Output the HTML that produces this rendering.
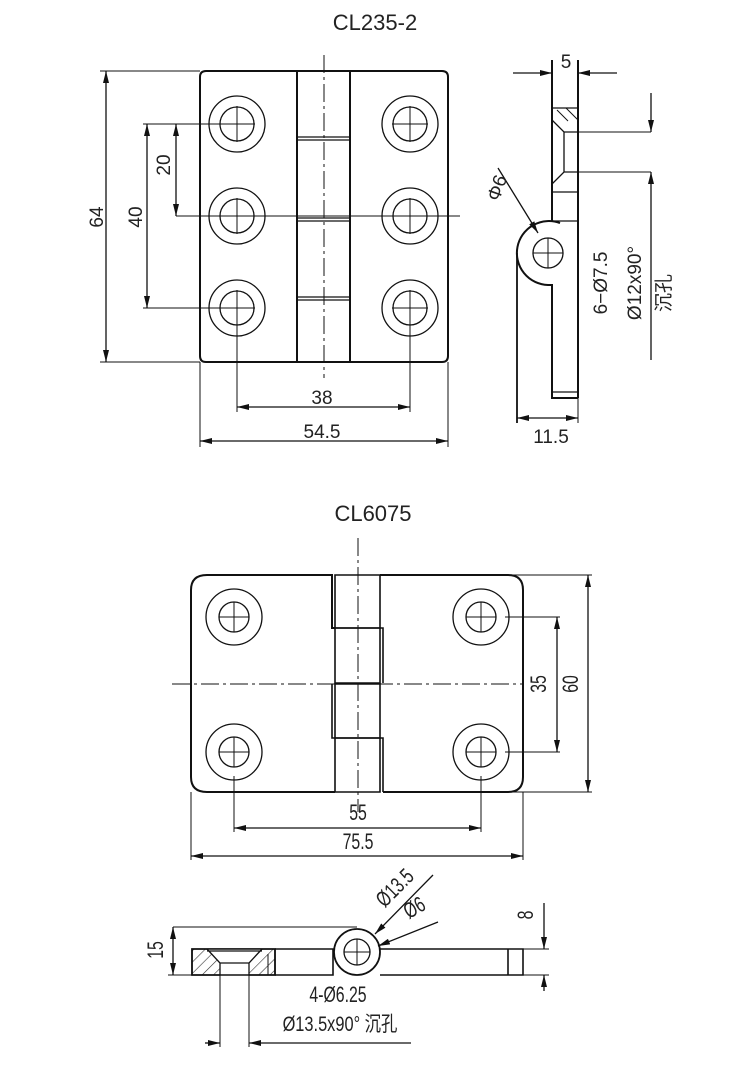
<!DOCTYPE html>
<html><head><meta charset="utf-8"><style>
html,body{margin:0;padding:0;background:#fff;}
svg{display:block;}
text{font-family:"Liberation Sans","Noto Sans CJK SC",sans-serif;fill:#222;}
.c{font-family:"Liberation Sans Narrow","Liberation Sans","Noto Sans CJK SC",sans-serif;}
</style></head><body>
<svg width="750" height="1074" viewBox="0 0 750 1074" xmlns="http://www.w3.org/2000/svg">
<defs>
<marker id="a" viewBox="0 0 12 6" refX="12" refY="3" markerWidth="12" markerHeight="6" markerUnits="userSpaceOnUse" orient="auto-start-reverse">
<path d="M0,0 L12,3 L0,6 z" fill="#111"/></marker>
<pattern id="h" width="8" height="8" patternUnits="userSpaceOnUse" patternTransform="rotate(45)">
<line x1="0" y1="0" x2="0" y2="8" stroke="#333" stroke-width="1.2"/></pattern>
</defs>

<text x="375" y="30" font-size="22" text-anchor="middle">CL235-2</text>
<text x="373" y="521" font-size="22" text-anchor="middle">CL6075</text>

<g fill="none" stroke="#111" stroke-width="1.3">
<path d="M206,71 H442 Q448,71 448,77 V356 Q448,362 442,362 H206 Q200,362 200,356 V77 Q200,71 206,71 Z" stroke-width="2"/>
<line x1="297" y1="71" x2="297" y2="362" stroke-width="2"/>
<line x1="350" y1="71" x2="350" y2="362" stroke-width="2"/>
<g stroke-width="1.2">
<line x1="297" y1="137" x2="350" y2="137"/><line x1="297" y1="140" x2="350" y2="140"/>
<line x1="297" y1="218" x2="350" y2="218"/><line x1="297" y1="221" x2="350" y2="221"/>
<line x1="297" y1="297" x2="350" y2="297"/><line x1="297" y1="300" x2="350" y2="300"/>
</g>
<line x1="324" y1="55" x2="324" y2="378" stroke-width="1" stroke-dasharray="18,4,3,4"/>
<line x1="200" y1="216" x2="460" y2="216" stroke-width="1"/>
<g>
<circle cx="237" cy="124" r="28"/><circle cx="237" cy="124" r="17"/>
<circle cx="237" cy="216" r="28"/><circle cx="237" cy="216" r="17"/>
<circle cx="237" cy="308" r="28"/><circle cx="237" cy="308" r="17"/>
<circle cx="410" cy="124" r="28"/><circle cx="410" cy="124" r="17"/>
<circle cx="410" cy="216" r="28"/><circle cx="410" cy="216" r="17"/>
<circle cx="410" cy="308" r="28"/><circle cx="410" cy="308" r="17"/>
</g>
<g stroke-width="1">
<path d="M219,124h36M237,106v36M219,216h36M237,198v36M219,308h36M237,290v36"/>
<path d="M392,124h36M410,106v36M392,216h36M410,198v36M392,308h36M410,290v36"/>
</g>
<line x1="100" y1="71" x2="200" y2="71" stroke-width="1"/>
<line x1="100" y1="362" x2="200" y2="362" stroke-width="1"/>
<line x1="106" y1="71" x2="106" y2="362" marker-start="url(#a)" marker-end="url(#a)"/>
<line x1="143" y1="124" x2="237" y2="124" stroke-width="1"/>
<line x1="143" y1="308" x2="237" y2="308" stroke-width="1"/>
<line x1="147" y1="124" x2="147" y2="308" marker-start="url(#a)" marker-end="url(#a)"/>
<line x1="176" y1="216" x2="237" y2="216" stroke-width="1"/>
<line x1="176" y1="124" x2="176" y2="216" marker-start="url(#a)" marker-end="url(#a)"/>
<line x1="237" y1="308" x2="237" y2="412" stroke-width="1"/>
<line x1="410" y1="308" x2="410" y2="412" stroke-width="1"/>
<line x1="237" y1="407" x2="410" y2="407" marker-start="url(#a)" marker-end="url(#a)"/>
<line x1="200" y1="362" x2="200" y2="447" stroke-width="1"/>
<line x1="448" y1="362" x2="448" y2="447" stroke-width="1"/>
<line x1="200" y1="441" x2="448" y2="441" marker-start="url(#a)" marker-end="url(#a)"/>

<line x1="552" y1="60" x2="552" y2="221" stroke-width="2"/>
<line x1="578" y1="60" x2="578" y2="398" stroke-width="2"/>
<line x1="513" y1="73" x2="552" y2="73" marker-end="url(#a)"/>
<line x1="617" y1="73" x2="578" y2="73" marker-end="url(#a)"/>
<line x1="552" y1="108" x2="578" y2="108"/>
<path d="M552,120 L564,132 H578 M552,184 L564,172 H578 M564,132 V172 M552,192 H578"/>
<line x1="557" y1="110" x2="568" y2="121" stroke-width="1"/>
<line x1="566" y1="108" x2="578" y2="120" stroke-width="1"/>
<line x1="578" y1="132" x2="651" y2="132" stroke-width="1"/>
<line x1="578" y1="172" x2="651" y2="172" stroke-width="1"/>
<line x1="651" y1="93" x2="651" y2="132" marker-end="url(#a)"/>
<line x1="651" y1="360" x2="651" y2="172" marker-end="url(#a)"/>
<line x1="552" y1="221" x2="578" y2="221"/>
<path d="M560,223 A32,32 0 1,0 548,285 H552 V398 H578" stroke-width="2"/>
<line x1="552" y1="392" x2="578" y2="392"/>
<line x1="517" y1="253" x2="517" y2="423" stroke-width="1.8"/>
<circle cx="548" cy="253" r="15"/>
<path d="M533,253h30M548,238v30" stroke-width="1"/>
<line x1="517" y1="418" x2="578" y2="418" marker-start="url(#a)" marker-end="url(#a)"/>
<line x1="578" y1="398" x2="578" y2="423" stroke-width="1"/>
<line x1="498" y1="168" x2="538" y2="233" marker-end="url(#a)"/>

<path d="M207,575 H332 V628 H335 M380,575 H508 Q523,575 523,590 V777 Q523,792 508,792 H383 M335,792 H207 Q191,792 191,777 V590 Q191,575 207,575" stroke-width="2"/>
<path d="M335,575 H380 V628 H335 Z" stroke-width="1.6"/>
<path d="M335,628 H380 V683 H335 Z M380,628 H383 V683" stroke-width="1.6"/>
<path d="M335,684 H380 V738 H335 Z M332,684 V738 H335" stroke-width="1.6"/>
<path d="M335,738 H380 V792 H335 Z M380,738 H383 V792" stroke-width="1.6"/>
<line x1="358" y1="538" x2="358" y2="812" stroke-width="1" stroke-dasharray="18,4,3,4"/>
<line x1="172" y1="684" x2="522" y2="684" stroke-width="1" stroke-dasharray="18,4,3,4"/>
<circle cx="234" cy="617" r="28"/><circle cx="234" cy="617" r="15"/>
<circle cx="234" cy="752" r="28"/><circle cx="234" cy="752" r="15"/>
<circle cx="481" cy="617" r="28"/><circle cx="481" cy="617" r="15"/>
<circle cx="481" cy="752" r="28"/><circle cx="481" cy="752" r="15"/>
<path d="M219,617h30M234,602v30M219,752h30M234,737v30M466,617h30M481,602v30M466,752h30M481,737v30" stroke-width="1"/>
<line x1="505" y1="617" x2="560" y2="617" stroke-width="1"/>
<line x1="505" y1="752" x2="560" y2="752" stroke-width="1"/>
<line x1="557" y1="617" x2="557" y2="752" marker-start="url(#a)" marker-end="url(#a)"/>
<line x1="508" y1="575" x2="592" y2="575" stroke-width="1"/>
<line x1="508" y1="792" x2="592" y2="792" stroke-width="1"/>
<line x1="588" y1="575" x2="588" y2="792" marker-start="url(#a)" marker-end="url(#a)"/>
<line x1="234" y1="776" x2="234" y2="832" stroke-width="1"/>
<line x1="481" y1="776" x2="481" y2="832" stroke-width="1"/>
<line x1="234" y1="828" x2="481" y2="828" marker-start="url(#a)" marker-end="url(#a)"/>
<line x1="191" y1="792" x2="191" y2="860" stroke-width="1"/>
<line x1="523" y1="792" x2="523" y2="860" stroke-width="1"/>
<line x1="191" y1="856" x2="523" y2="856" marker-start="url(#a)" marker-end="url(#a)"/>

<path d="M192,949 H275 V975 H192 Z" fill="url(#h)" stroke-width="1.6"/>
<path d="M207,949 L220,963 H249 L262,949 Z" fill="#fff" stroke="none"/>
<rect x="220" y="962" width="29" height="14" fill="#fff" stroke="none"/>
<path d="M207,949 L220,963 V975 M262,949 L249,963 V975 M220,963 H249 M207,951 H262" stroke-width="1.3"/>
<path d="M192,949 H275 V975 H192 Z" stroke-width="1.6"/>
<line x1="268" y1="954" x2="268" y2="975" stroke-width="1"/>
<path d="M275,949 H333 V975 H275" stroke-width="1.6"/>
<path d="M380,949 H523 V975 H380" stroke-width="1.6"/>
<line x1="508" y1="949" x2="508" y2="975" stroke-width="1.6"/>
<circle cx="357" cy="952" r="23" fill="#fff" stroke-width="1.8"/>
<circle cx="357" cy="952" r="13"/>
<path d="M344,952h26M357,939v26" stroke-width="1"/>
<line x1="173" y1="927" x2="357" y2="927" stroke-width="1"/>
<line x1="168" y1="975" x2="192" y2="975" stroke-width="1"/>
<line x1="173" y1="927" x2="173" y2="975" marker-start="url(#a)" marker-end="url(#a)"/>
<line x1="220" y1="975" x2="220" y2="1047" stroke-width="1"/>
<line x1="249" y1="975" x2="249" y2="1047" stroke-width="1"/>
<line x1="205" y1="1043" x2="220" y2="1043" marker-end="url(#a)"/>
<line x1="411" y1="1043" x2="249" y2="1043" marker-end="url(#a)"/>
<line x1="523" y1="949" x2="549" y2="949" stroke-width="1"/>
<line x1="523" y1="975" x2="549" y2="975" stroke-width="1"/>
<line x1="544" y1="903" x2="544" y2="949" marker-end="url(#a)"/>
<line x1="544" y1="991" x2="544" y2="975" marker-end="url(#a)"/>
<line x1="433" y1="875" x2="375" y2="934" marker-end="url(#a)"/>
<line x1="438" y1="922" x2="378" y2="946" marker-end="url(#a)"/>
</g>

<g font-size="19">
<text x="566" y="68" text-anchor="middle">5</text>
<text x="322" y="404" text-anchor="middle">38</text>
<text x="322" y="438" text-anchor="middle">54.5</text>
<text x="551" y="443" text-anchor="middle">11.5</text>
<text transform="translate(103,217) rotate(-90)" text-anchor="middle">64</text>
<text transform="translate(142,217) rotate(-90)" text-anchor="middle">40</text>
<text transform="translate(170,165) rotate(-90)" text-anchor="middle">20</text>
<text transform="translate(503,190) rotate(-70)" text-anchor="middle">Φ6</text>
<text transform="translate(607,283) rotate(-90)" text-anchor="middle">6−Ø7.5</text>
<text transform="translate(641,283) rotate(-90)" text-anchor="middle">Ø12x90°</text>
<text transform="translate(670,293) rotate(-90)" text-anchor="middle" font-size="19">沉孔</text>
</g>
<g font-size="22" class="c">
<text transform="translate(546,684) rotate(-90) scale(0.72,1)" text-anchor="middle">35</text>
<text transform="translate(578,684) rotate(-90) scale(0.72,1)" text-anchor="middle">60</text>
<text transform="translate(358,820) scale(0.72,1)" text-anchor="middle">55</text>
<text transform="translate(358,849) scale(0.72,1)" text-anchor="middle">75.5</text>
<text transform="translate(163,950) rotate(-90) scale(0.72,1)" text-anchor="middle">15</text>
<text transform="translate(533,915) rotate(-90) scale(0.72,1)" text-anchor="middle">8</text>
<text transform="translate(400,893) rotate(-45) scale(0.72,1)" text-anchor="middle">Ø13.5</text>
<text transform="translate(418,914) rotate(-30) scale(0.72,1)" text-anchor="middle">Ø6</text>
<text transform="translate(338,1002) scale(0.72,1)" text-anchor="middle">4-Ø6.25</text>
<text transform="translate(340,1031) scale(0.78,1)" text-anchor="middle" font-size="21">Ø13.5x90° 沉孔</text>
</g>
</svg>
</body></html>
